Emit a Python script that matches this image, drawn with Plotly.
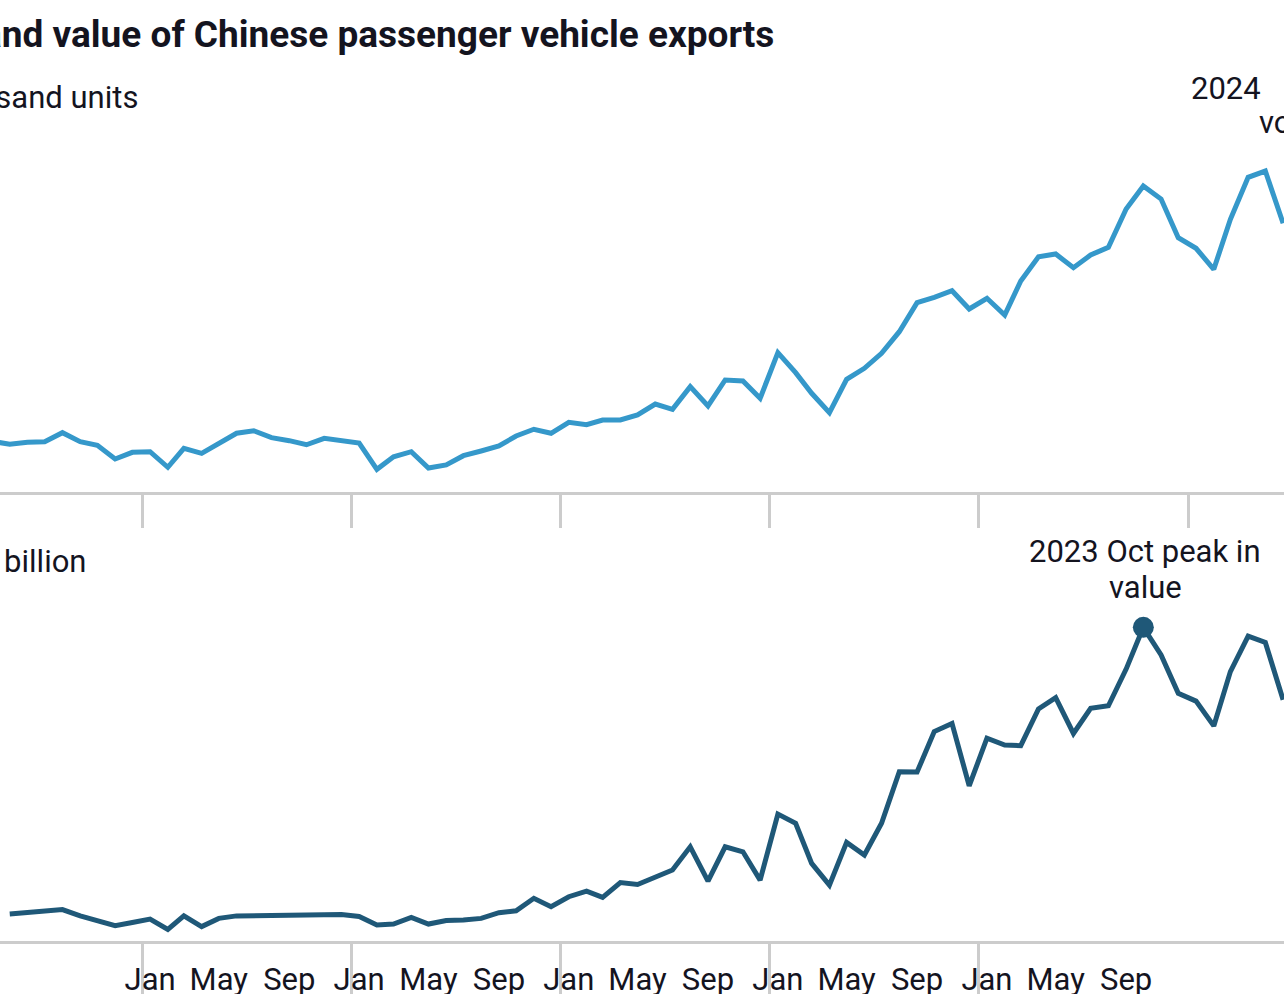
import plotly.graph_objects as go
import pandas as pd

# ---- data (monthly, plotted at mid-month) ----
months = list(pd.date_range("2018-04-01", "2024-06-01", freq="MS") + pd.Timedelta(days=14))

volume_thousand_units = [
    59.6, 56.1, 58.5, 59.2, 69.8, 59.2, 54.9, 38.8, 46.7,                       # 2018 Apr-Dec
    47.4, 29.1, 51.4, 45.5, 57.3, 69.1, 72.1, 63.9, 60.4, 55.6, 63.2, 60.0,     # 2019
    57.6, 26.7, 41.5, 47.4, 28.2, 31.8, 42.7, 48.2, 54.1, 65.9, 73.8, 69.1,     # 2020
    82.0, 79.2, 84.7, 84.7, 90.6, 103.5, 97.3, 123.9, 101.2, 131.8, 130.6, 110.2,  # 2021
    163.9, 140.4, 116.1, 93.3, 132.6, 145.5, 163.2, 188.6, 222.7, 229.1, 236.8, 215.3,  # 2022
    227.9, 208.2, 248.2, 276.8, 280.0, 263.9, 278.8, 287.9, 332.9, 360.0, 344.7, 299.2,  # 2023
    286.7, 262.0, 320.8, 370.2, 377.6, 316.1,                                   # 2024 Jan-Jun
]

value_usd_billion = [
    None, 0.86, 0.91, 0.96, 1.00, 0.80, 0.64, 0.49, 0.59,
    0.70, 0.37, 0.80, 0.46, 0.72, 0.80, 0.81, 0.81, 0.80, 0.81, 0.83, 0.84,
    0.78, 0.51, 0.54, 0.75, 0.54, 0.65, 0.67, 0.72, 0.90, 0.96, 1.36, 1.09,
    1.41, 1.59, 1.39, 1.86, 1.80, 2.05, 2.26, 3.00, 1.91, 3.00, 2.84, 1.94,
    4.04, 3.75, 2.47, 1.78, 3.14, 2.74, 3.75, 5.39, 5.38, 6.67, 6.93, 4.94,
    6.46, 6.24, 6.22, 7.39, 7.75, 6.61, 7.41, 7.49, 8.66, 9.99, 9.11, 7.89,
    7.64, 6.85, 8.58, 9.71, 9.51, 7.68,
]

label_years = [2019, 2020, 2021, 2022, 2023]
label_months = [1, 5, 9]
label_names = {1: "Jan", 5: "May", 9: "Sep"}
year_tick_years_top = [2019, 2020, 2021, 2022, 2023, 2024]
year_tick_years_bottom = [2019, 2020, 2021, 2022, 2023]

title_text = "Volume and value of Chinese passenger vehicle exports"
top_unit = "Thousand units"
bottom_unit = "$ billion"
peak_value_lines = ["2023 Oct peak in", "value"]
peak_volume_lines = ["2024", "volume"]

# ---- styling ----
W, H = 1284, 994
TOP_COLOR = "#3598ca"
BOT_COLOR = "#1f5878"
AXIS_GRAY = "#cccccc"
TEXT = "#14141f"
FONT = "Roboto"
FS = 31

x_range = ["2018-04-28", "2024-06-16 14:00"]

label_vals = [pd.Timestamp(y, m, 15) for y in label_years for m in label_months]
label_text = [label_names[m] for y in label_years for m in label_months]
jan_top = [pd.Timestamp(y, 1, 1) for y in year_tick_years_top]
jan_bot = [pd.Timestamp(y, 1, 1) for y in year_tick_years_bottom]

def py(pix):  # pixel from top -> paper fraction
    return (H - pix) / H

fig = go.Figure()
fig.add_trace(go.Scatter(x=months, y=volume_thousand_units, mode="lines",
                         line=dict(color=TOP_COLOR, width=5),
                         xaxis="x", yaxis="y", hoverinfo="skip", showlegend=False))
fig.add_trace(go.Scatter(x=months, y=value_usd_billion, mode="lines",
                         line=dict(color=BOT_COLOR, width=5),
                         xaxis="x2", yaxis="y2", hoverinfo="skip", showlegend=False))

# peak marker for value (2023 peak)
vals = [v if v is not None else -1 for v in value_usd_billion[:-8]]
pk = vals.index(max(vals))
fig.add_trace(go.Scatter(x=[months[pk]], y=[value_usd_billion[pk]], mode="markers",
                         marker=dict(color=BOT_COLOR, size=21),
                         xaxis="x2", yaxis="y2", hoverinfo="skip", showlegend=False))

fig.update_layout(
    width=W, height=H,
    margin=dict(l=0, r=0, t=0, b=0),
    paper_bgcolor="white", plot_bgcolor="white",
    font=dict(family=FONT, color=TEXT, size=FS),
    xaxis=dict(domain=[0, 1], range=x_range, type="date", anchor="y",
               showgrid=False, zeroline=False,
               showline=True, linecolor=AXIS_GRAY, linewidth=3,
               tickmode="array", tickvals=label_vals, ticktext=label_text,
               showticklabels=False, ticks="",
               minor=dict(tickmode="array", tickvals=jan_top, ticks="outside",
                          ticklen=33, tickwidth=3, tickcolor=AXIS_GRAY, showgrid=False),
               automargin=False),
    yaxis=dict(domain=[py(492), py(67)], range=[0, 500], anchor="x",
               showgrid=False, zeroline=False, showline=False,
               showticklabels=False, ticks="", automargin=False),
    xaxis2=dict(domain=[0, 1], range=x_range, type="date", anchor="y2",
                showgrid=False, zeroline=False,
                showline=True, linecolor=AXIS_GRAY, linewidth=3,
                tickmode="array", tickvals=label_vals, ticktext=label_text,
                showticklabels=True, ticks="outside", ticklen=9,
                tickcolor="rgba(0,0,0,0)",
                tickfont=dict(family=FONT, size=FS, color=TEXT),
                minor=dict(tickmode="array", tickvals=jan_bot, ticks="outside",
                           ticklen=60, tickwidth=3, tickcolor=AXIS_GRAY, showgrid=False),
                automargin=False),
    yaxis2=dict(domain=[py(941), py(941 - 11 * 31.4)], range=[0, 11], anchor="x2",
                showgrid=False, zeroline=False, showline=False,
                showticklabels=False, ticks="", automargin=False),
)

def txt(s, xpix, ypix, anchor, size=FS, bold=False):
    return dict(text=("<b>%s</b>" % s) if bold else s, xref="paper", yref="paper",
                x=xpix / W, y=py(ypix), xanchor=anchor, yanchor="middle",
                showarrow=False, font=dict(family=FONT, size=size, color=TEXT))

ann = [
    txt(title_text, 776, 34, "right", size=37, bold=True),
    txt(top_unit, 140, 98, "right"),
    txt(bottom_unit, 88, 561, "right"),
    txt(peak_value_lines[0], 1145, 551, "center"),
    txt(peak_value_lines[1], 1145, 587, "center"),
    txt(peak_volume_lines[0], 1189, 88, "left"),
    txt(peak_volume_lines[1], 1257, 123, "left"),
]
fig.update_layout(annotations=ann)

fig.write_html("out.html")
